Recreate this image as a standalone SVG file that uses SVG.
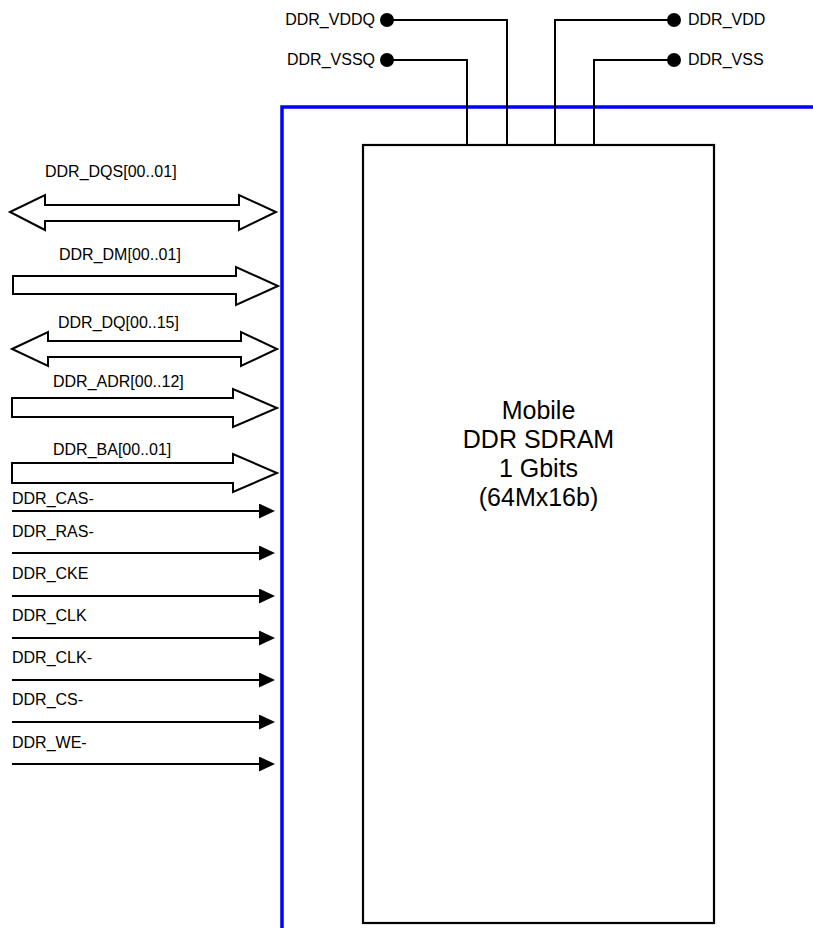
<svg xmlns="http://www.w3.org/2000/svg" width="813" height="928" viewBox="0 0 813 928">
<style>
text{font-family:"Liberation Sans",Arial,sans-serif;fill:#000}
.lbl{font-size:16px}
.title{font-size:25px;text-anchor:middle}
.wire{stroke:#000;stroke-width:2;fill:none}
.bus{stroke:#000;stroke-width:2;fill:#fff;stroke-linejoin:miter}
.dot{fill:#000}
</style>
<defs>
<marker id="ah" markerUnits="userSpaceOnUse" markerWidth="16" markerHeight="16" refX="0" refY="7.5" orient="auto">
<path d="M0,0 L16,7.5 L0,15 z" fill="#000"/>
</marker>
</defs>
<rect width="813" height="928" fill="#fff"/>
<g id="board">
<polyline points="282,928 282,107 813,107" fill="none" stroke="#0000ff" stroke-width="3.5"/>
</g>
<g id="chip">
<rect x="363" y="145" width="351" height="778" fill="#fff" stroke="#000" stroke-width="2.2"/>
<text class="title" x="538.5" y="419">Mobile</text>
<text class="title" x="538.5" y="448">DDR SDRAM</text>
<text class="title" x="538.5" y="477">1 Gbits</text>
<text class="title" x="538.5" y="506">(64Mx16b)</text>
</g>
<g id="connectors">
<polyline class="wire" points="393,20 507,20 507,145"/>
<polyline class="wire" points="393,60 467,60 467,145"/>
<polyline class="wire" points="668,20 555,20 555,145"/>
<polyline class="wire" points="668,60 594,60 594,145"/>
<line class="wire" x1="12" y1="511" x2="259" y2="511" marker-end="url(#ah)"/>
<line class="wire" x1="12" y1="553" x2="259" y2="553" marker-end="url(#ah)"/>
<line class="wire" x1="12" y1="596" x2="259" y2="596" marker-end="url(#ah)"/>
<line class="wire" x1="12" y1="638" x2="259" y2="638" marker-end="url(#ah)"/>
<line class="wire" x1="12" y1="680" x2="259" y2="680" marker-end="url(#ah)"/>
<line class="wire" x1="12" y1="722" x2="259" y2="722" marker-end="url(#ah)"/>
<line class="wire" x1="12" y1="764" x2="259" y2="764" marker-end="url(#ah)"/>
</g>
<g id="pin-vddq">
<circle class="dot" cx="387" cy="20" r="7"/>
<text class="lbl" x="375" y="25" text-anchor="end">DDR_VDDQ</text>
</g>
<g id="pin-vssq">
<circle class="dot" cx="387" cy="60" r="7"/>
<text class="lbl" x="375" y="65" text-anchor="end">DDR_VSSQ</text>
</g>
<g id="pin-vdd">
<circle class="dot" cx="674" cy="20" r="7"/>
<text class="lbl" x="688" y="25">DDR_VDD</text>
</g>
<g id="pin-vss">
<circle class="dot" cx="674" cy="60" r="7"/>
<text class="lbl" x="688" y="65">DDR_VSS</text>
</g>
<g id="bus-dqs">
<polygon class="bus" points="10,212 45,195 45,205 239,205 239,195 276,212 239,230 239,221 45,221 45,230"/>
<text class="lbl" x="45" y="177">DDR_DQS[00..01]</text>
</g>
<g id="bus-dm">
<polygon class="bus" points="13,276 236,276 236,267 278,286 236,305 236,294 13,294"/>
<text class="lbl" x="59" y="260">DDR_DM[00..01]</text>
</g>
<g id="bus-dq">
<polygon class="bus" points="12,349 48,332 48,341 241,341 241,332 277,349 241,366 241,357 48,357 48,366"/>
<text class="lbl" x="58" y="328">DDR_DQ[00..15]</text>
</g>
<g id="bus-adr">
<polygon class="bus" points="12,398 233,398 233,389 277,408 233,427 233,417 12,417"/>
<text class="lbl" x="53" y="387">DDR_ADR[00..12]</text>
</g>
<g id="bus-ba">
<polygon class="bus" points="12,463 233,463 233,454 277,473 233,492 233,483 12,483"/>
<text class="lbl" x="53" y="455">DDR_BA[00..01]</text>
</g>
<g id="sig-cas"><text class="lbl" x="12" y="504">DDR_CAS-</text></g>
<g id="sig-ras"><text class="lbl" x="12" y="537">DDR_RAS-</text></g>
<g id="sig-cke"><text class="lbl" x="12" y="579">DDR_CKE</text></g>
<g id="sig-clk"><text class="lbl" x="12" y="621">DDR_CLK</text></g>
<g id="sig-clkn"><text class="lbl" x="12" y="663">DDR_CLK-</text></g>
<g id="sig-cs"><text class="lbl" x="12" y="705">DDR_CS-</text></g>
<g id="sig-we"><text class="lbl" x="12" y="748">DDR_WE-</text></g>
</svg>
